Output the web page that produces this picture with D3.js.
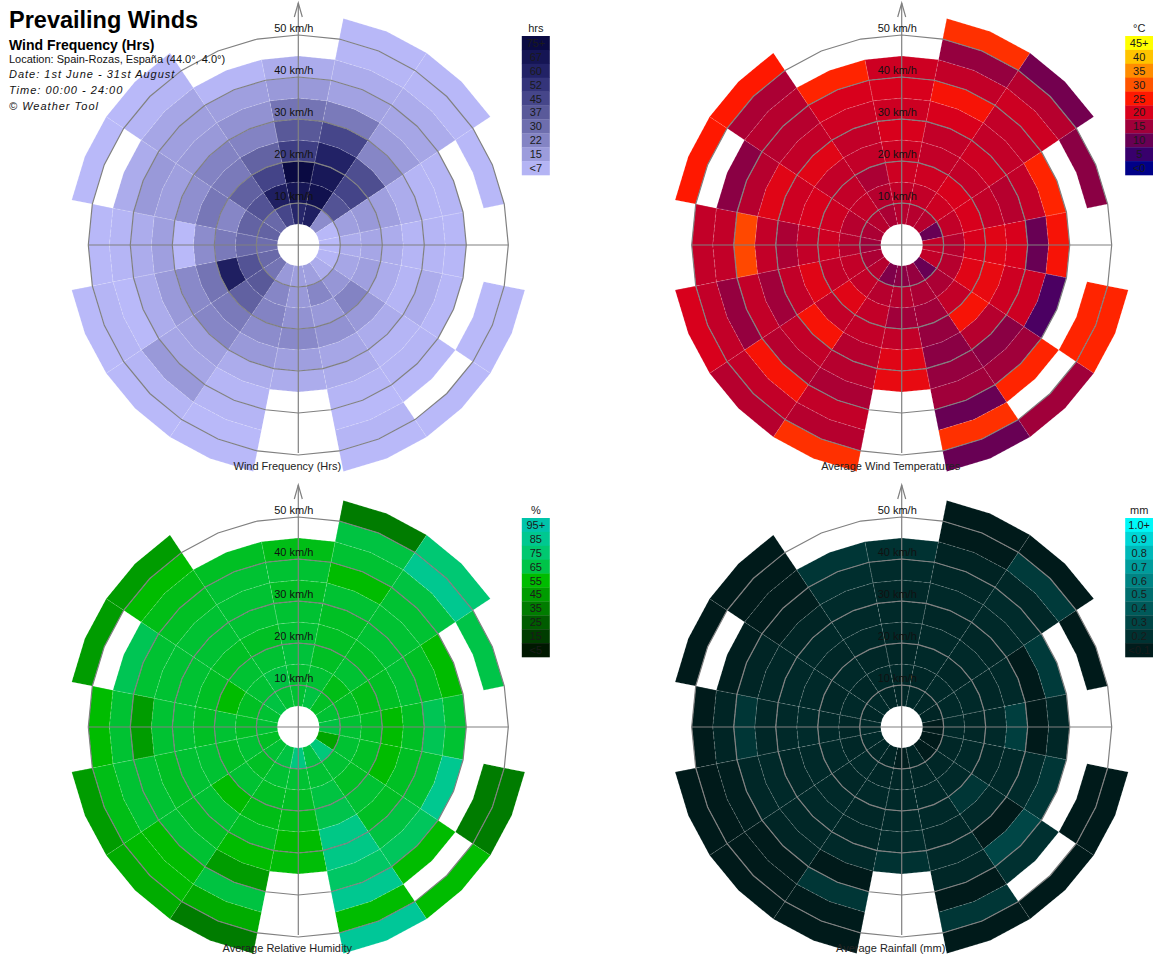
<!DOCTYPE html>
<html><head><meta charset="utf-8">
<script src="https://cdn.jsdelivr.net/npm/d3@7/dist/d3.min.js"></script>
<style>
body{margin:0;background:#fff}
svg{display:block}
text{font-family:"Liberation Sans",Arial,Helvetica,sans-serif}
</style>
</head><body>
<svg id="chart" width="1153" height="954"></svg>
<script>
// ---------------- DATA ----------------
const directions = ["N","NNE","NE","ENE","E","ESE","SE","SSE","S","SSW","SW","WSW","W","WNW","NW","NNW"];
// speed bands (km/h lower bound, each 5 km/h wide)
const speedBands = [5,10,15,20,25,30,35,40,45,50];
const ringSpeeds = [10,20,30,40,50];

// Wind frequency (hrs) per direction x speed band (null = no data)
const hours = [
  [58,67,75,48,38,28,16,10,null,null],
  [62,70,66,60,45,26,13,10,6,4],
  [20,40,46,42,22,15,12,10,6,4],
  [4,14,16,14,10,7,7,null,4,null],
  [3,10,12,10,7,7,5,null,null,null],
  [7,12,14,10,7,10,5,null,3,3],
  [10,17,23,16,10,7,7,3,null,3],
  [14,22,16,18,12,10,7,3,7,3],
  [14,16,18,21,14,10,null,null,null,null],
  [16,22,23,20,16,10,7,7,3,3],
  [28,38,35,26,22,14,12,16,7,3],
  [32,40,62,28,21,16,10,3,7,3],
  [30,32,26,20,3,14,10,7,4,null],
  [34,34,22,27,19,14,16,10,null,3],
  [32,40,35,26,23,16,14,12,7,3],
  [45,62,46,34,23,18,14,6,null,null]
];
// Average wind temperature (°C)
const temperature = [
  [17,18,19,19,20,19,20,19,null,null],
  [17,18,19,18,18,20,24,18,14,27],
  [17,19,20,18,19,18,18,19,17,11],
  [10,18,20,18,17,18,26,null,13,null],
  [18,17,20,21,20,10,24,null,null,null],
  [18,17,21,22,19,19,7,null,26,26],
  [10,16,18,24,17,13,15,26,null,15],
  [14,16,15,14,13,14,15,10,27,10],
  [13,17,15,18,21,22,null,null,null,null],
  [12,17,18,18,17,17,16,18,17,27],
  [17,18,21,18,24,18,17,24,18,17],
  [16,18,18,21,18,15,18,14,18,20],
  [15,17,19,18,16,18,29,18,18,null],
  [16,17,19,20,19,21,17,13,null,25],
  [17,18,18,18,21,18,17,17,16,25],
  [16,17,16,18,18,19,20,26,null,null]
];
// Average relative humidity (%)
const humidity = [
  [62,62,63,62,62,60,62,58,null,null],
  [64,62,60,60,60,62,55,62,64,35],
  [60,58,62,60,62,62,62,64,85,76],
  [62,60,58,60,62,60,55,null,65,null],
  [64,62,60,55,60,68,62,null,null,null],
  [48,62,60,55,60,62,85,null,35,35],
  [78,62,60,62,60,64,70,55,null,55],
  [64,62,64,66,82,82,72,85,55,88],
  [80,62,60,58,55,56,null,null,null,null],
  [64,62,60,58,60,55,45,64,50,35],
  [62,60,62,55,62,60,62,55,55,50],
  [60,62,60,62,62,60,62,62,58,45],
  [62,60,62,60,62,62,45,62,55,null],
  [62,60,55,60,62,62,62,68,null,45],
  [64,62,62,60,62,62,60,58,55,45],
  [62,64,62,60,62,62,62,60,null,null]
];
// Average rainfall (mm)
const rainfall = [
  [0.15,0.16,0.15,0.16,0.16,0.16,0.17,0.2,null,null],
  [0.16,0.15,0.16,0.16,0.15,0.16,0.15,0.13,0.09,0.07],
  [0.15,0.16,0.15,0.16,0.15,0.16,0.17,0.15,0.24,0.07],
  [0.14,0.16,0.16,0.15,0.16,0.07,0.24,null,0.07,null],
  [0.09,0.16,0.15,0.16,0.26,0.07,0.15,null,null,null],
  [0.07,0.15,0.16,0.15,0.16,0.17,0.22,null,0.07,0.07],
  [0.09,0.15,0.16,0.22,0.16,0.07,0.3,0.19,null,0.07],
  [0.14,0.15,0.16,0.16,0.15,0.16,0.15,0.07,0.22,0.07],
  [0.11,0.15,0.16,0.16,0.17,0.2,null,null,null,null],
  [0.14,0.15,0.16,0.15,0.15,0.16,0.07,0.22,0.09,0.07],
  [0.15,0.16,0.15,0.16,0.16,0.15,0.14,0.09,0.08,0.07],
  [0.16,0.15,0.16,0.16,0.15,0.16,0.15,0.11,0.08,0.07],
  [0.16,0.15,0.16,0.17,0.16,0.15,0.22,0.14,0.09,null],
  [0.15,0.16,0.15,0.16,0.16,0.15,0.14,0.11,null,0.07],
  [0.16,0.15,0.16,0.15,0.16,0.14,0.11,0.09,0.08,0.07],
  [0.15,0.16,0.15,0.16,0.16,0.17,0.18,0.22,null,null]
];

// legend tick labels (bottom -> top)
const hoursLabels = ["<7","15","22","30","37","45","52","60","67","75+"];
const tempLabels  = ["<0","5","10","15","20","25","30","35","40","45+"];
const humLabels   = ["<5","15","25","35","45","55","65","75","85","95+"];
const rainLabels  = ["<0.1","0.2","0.3","0.4","0.5","0.6","0.7","0.8","0.9","1.0+"];
// legend values (bottom -> top)
const hoursStops = [7.5,15,22.5,30,37.5,45,52.5,60,67.5,75];
const tempStops  = [0,5,10,15,20,25,30,35,40,45];
const humStops   = [5,15,25,35,45,55,65,75,85,95];
const rainStops  = [0.1,0.2,0.3,0.4,0.5,0.6,0.7,0.8,0.9,1.0];

// ---------------- DRAWING ----------------
const hoursColors = ["#b4b4f4","#9c9cdc","#8484c4","#6e6eae","#5a5a9a","#46468a","#34347a","#222266","#151554","#0a0a42"];
const tempColors  = ["#000088","#38006c","#680054","#a0003a","#d8001c","#ff1800","#ff5400","#ff8c00","#ffc400","#ffff00"];
const humColors   = ["#001800","#003c00","#005c00","#007c00","#009c00","#00bc00","#00c448","#00c870","#00c890","#00c4aa"];
const rainColors  = ["#001c1c","#003232","#004646","#005a5a","#006e6e","#008484","#009c9c","#00b8b8","#00d6d6","#00f8f8"];

const svg = d3.select("#chart");
const rScale = d3.scaleLinear().domain([0, 50]).range([0, 210]);
const aScale = d3.scaleLinear().domain([0, 16]).range([0, 2 * Math.PI]);

const panels = [
  {cx:298.3, cy:245, data:hours, stops:[0].concat(hoursStops), colors:["#bcbcfc"].concat(hoursColors),
   legendColors:hoursColors, labels:hoursLabels, unit:"hrs", title:"Wind Frequency (Hrs)"},
  {cx:901.7, cy:245, data:temperature, stops:tempStops, colors:tempColors,
   legendColors:tempColors, labels:tempLabels, unit:"°C", title:"Average Wind Temperatures"},
  {cx:298.3, cy:727, data:humidity, stops:humStops, colors:humColors,
   legendColors:humColors, labels:humLabels, unit:"%", title:"Average Relative Humidity"},
  {cx:901.7, cy:727, data:rainfall, stops:[0].concat(rainStops), colors:["#001414"].concat(rainColors),
   legendColors:rainColors, labels:rainLabels, unit:"mm", title:"Average Rainfall (mm)"}
];

function pt(a, r, p) { return [p.cx + r * Math.sin(a), p.cy - r * Math.cos(a)]; }
const lineGen = d3.line().curve(d3.curveLinearClosed);

panels.forEach(p => {
  const color = d3.scaleLinear().domain(p.stops).range(p.colors).clamp(true);
  const g = svg.append("g");
  const cells = [];
  p.data.forEach((row, i) => {
    row.forEach((v, j) => {
      if (v === null) return;
      cells.push({dir: i, band: j, v: v});
    });
  });
  g.selectAll("path.cell").data(cells).join("path")
    .attr("class", "cell")
    .attr("d", d => {
      const ri = rScale(speedBands[d.band]), ro = rScale(speedBands[d.band] + 5);
      const a0 = aScale(d.dir - 0.5), am = aScale(d.dir), a1 = aScale(d.dir + 0.5);
      return lineGen([pt(a0, ro, p), pt(am, ro, p), pt(a1, ro, p), pt(a1, ri, p), pt(am, ri, p), pt(a0, ri, p)]);
    })
    .attr("fill", d => color(d.v))
    .attr("stroke", "rgba(255,255,255,0.28)")
    .attr("stroke-width", 0.6)
    .attr("stroke-dasharray", "3,2");

  // rings (32-gons)
  const ringAngles = d3.range(32).map(k => aScale(k / 2));
  g.selectAll("path.ring").data(ringSpeeds).join("path")
    .attr("class", "ring")
    .attr("d", s => lineGen(ringAngles.map(a => pt(a, rScale(s), p))))
    .attr("fill", "none").attr("stroke", "#808080").attr("stroke-width", 1.2);

  // axes
  const R = rScale(50);
  g.append("line").attr("x1", p.cx).attr("x2", p.cx).attr("y1", p.cy + R - 2).attr("y2", p.cy - 242)
    .attr("stroke", "#808080").attr("stroke-width", 1.2);
  g.append("line").attr("x1", p.cx - R).attr("x2", p.cx + R).attr("y1", p.cy).attr("y2", p.cy)
    .attr("stroke", "#808080").attr("stroke-width", 1.2);
  g.append("path")
    .attr("d", `M${p.cx - 4},${p.cy - 228}L${p.cx},${p.cy - 242}L${p.cx + 4},${p.cy - 228}`)
    .attr("fill", "none").attr("stroke", "#808080").attr("stroke-width", 1.2);

  // ring labels
  g.selectAll("text.rl").data(ringSpeeds).join("text")
    .attr("class", "rl")
    .attr("x", p.cx - 4.5).attr("y", s => p.cy - rScale(s) - 3)
    .attr("text-anchor", "middle").attr("font-size", 11).attr("fill", "#111")
    .text(s => s + " km/h");

  // panel title
  g.append("text").attr("x", p.cx - 11).attr("y", p.cy + 225)
    .attr("text-anchor", "middle").attr("font-size", 11).attr("fill", "#222")
    .text(p.title);

  // legend
  const lx = p.cx + 223.5, ly = p.cy - 209, bw = 28, bh = 13.9;
  const lg = svg.append("g");
  lg.append("text").attr("x", lx + bw / 2).attr("y", ly - 4).attr("text-anchor", "middle")
    .attr("font-size", 11).attr("fill", "#222").text(p.unit);
  const idx = d3.range(p.labels.length).reverse(); // top = highest
  lg.selectAll("rect").data(idx).join("rect")
    .attr("x", lx).attr("y", (d, k) => ly + k * bh).attr("width", bw).attr("height", bh + 0.3)
    .attr("fill", d => p.legendColors[d]);
  lg.selectAll("text.ll").data(idx).join("text")
    .attr("class", "ll")
    .attr("x", lx + bw / 2).attr("y", (d, k) => ly + k * bh + bh / 2 + 4)
    .attr("text-anchor", "middle").attr("font-size", 11).attr("fill", "#1a1a1a")
    .text(d => p.labels[d]);
});

// header
const hdr = svg.append("g");
hdr.append("text").attr("x", 9).attr("y", 28).attr("font-size", 23.5).attr("font-weight", "bold").attr("fill", "#000").text("Prevailing Winds");
hdr.append("text").attr("x", 9).attr("y", 50).attr("font-size", 14).attr("font-weight", "bold").attr("fill", "#000").text("Wind Frequency (Hrs)");
hdr.append("text").attr("x", 9).attr("y", 63).attr("font-size", 11).attr("fill", "#111").text("Location: Spain-Rozas, España (44.0°, 4.0°)");
hdr.append("text").attr("x", 9).attr("y", 78).attr("font-size", 11).attr("font-style", "italic").attr("letter-spacing", 1).attr("fill", "#111").text("Date: 1st June - 31st August");
hdr.append("text").attr("x", 9).attr("y", 94).attr("font-size", 11).attr("font-style", "italic").attr("letter-spacing", 1).attr("fill", "#111").text("Time: 00:00 - 24:00");
hdr.append("text").attr("x", 9).attr("y", 110).attr("font-size", 11).attr("font-style", "italic").attr("letter-spacing", 1).attr("fill", "#111").text("© Weather Tool");
</script>
</body></html>
